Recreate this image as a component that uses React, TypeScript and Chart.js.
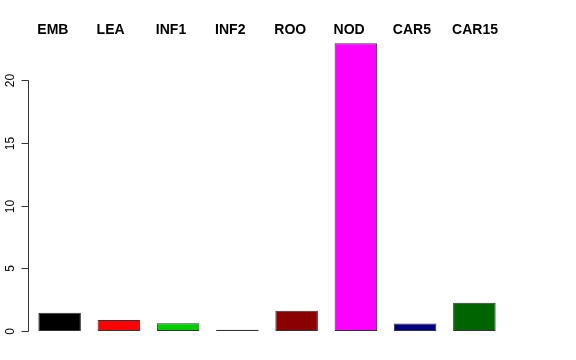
import React, { useEffect, useRef } from "react";
import { Chart, registerables } from "chart.js";

Chart.register(...registerables);

const categories = ["EMB", "LEA", "INF1", "INF2", "ROO", "NOD", "CAR5", "CAR15"];
const values = [1.45, 0.88, 0.62, 0.1, 1.62, 22.95, 0.6, 2.25];
const barColors = ["#000000", "#FF0000", "#00CD00", "#000000", "#8B0000", "#FF00FF", "#000080", "#006400"];
const yTicks = [0, 5, 10, 15, 20];

const rAxisPlugin = {
  id: "rAxis",
  afterDraw(chart: any) {
    const ctx = chart.ctx;
    const area = chart.chartArea;
    const y = chart.scales.y;
    const axisX = area.left - 1.5;
    ctx.save();
    ctx.strokeStyle = "#333333";
    ctx.lineWidth = 1;
    ctx.beginPath();
    ctx.moveTo(axisX, Math.round(y.getPixelForValue(yTicks[0])) + 0.5);
    ctx.lineTo(axisX, Math.round(y.getPixelForValue(yTicks[yTicks.length - 1])) + 0.5);
    ctx.stroke();
    ctx.fillStyle = "#000000";
    ctx.font = '12px "Liberation Sans", Arial, sans-serif';
    ctx.textAlign = "center";
    ctx.textBaseline = "middle";
    for (const t of yTicks) {
      const py = Math.round(y.getPixelForValue(t)) + 0.5;
      ctx.beginPath();
      ctx.moveTo(axisX, py);
      ctx.lineTo(axisX - 7, py);
      ctx.stroke();
      ctx.save();
      ctx.translate(axisX - 18, py);
      ctx.rotate(-Math.PI / 2);
      ctx.fillText(String(t), 0, 0);
      ctx.restore();
    }
    // top category labels, left-aligned over each bar
    ctx.font = 'bold 14px "Liberation Sans", Arial, sans-serif';
    ctx.textAlign = "left";
    ctx.textBaseline = "alphabetic";
    const meta = chart.getDatasetMeta(0);
    categories.forEach((c, i) => {
      const bar: any = meta.data[i];
      ctx.fillText(c, bar.x - bar.width / 2 - 1, 34);
    });
    ctx.restore();
  },
};

export default function App() {
  const ref = useRef<HTMLCanvasElement | null>(null);
  useEffect(() => {
    document.body.style.margin = "0";
    const chart = new Chart(ref.current as HTMLCanvasElement, {
      type: "bar",
      data: {
        labels: categories,
        datasets: [
          {
            data: values,
            backgroundColor: barColors,
            borderColor: "#333333",
            borderWidth: 1,
            borderSkipped: false,
            categoryPercentage: 1,
            barPercentage: 0.718,
          },
        ],
      },
      options: {
        responsive: false,
        animation: false,
        layout: { padding: { left: 30, right: 72, top: 30, bottom: 29 } },
        plugins: { legend: { display: false }, tooltip: { enabled: false } },
        scales: {
          x: { display: false },
          y: { display: false, min: 0, max: 24 },
        },
      },
      plugins: [rAxisPlugin],
    });
    return () => chart.destroy();
  }, []);
  return (
    <div style={{ position: "fixed", left: 0, top: 0, width: 576, height: 360, background: "#fff" }}>
      <canvas ref={ref} width={576} height={360} />
    </div>
  );
}
